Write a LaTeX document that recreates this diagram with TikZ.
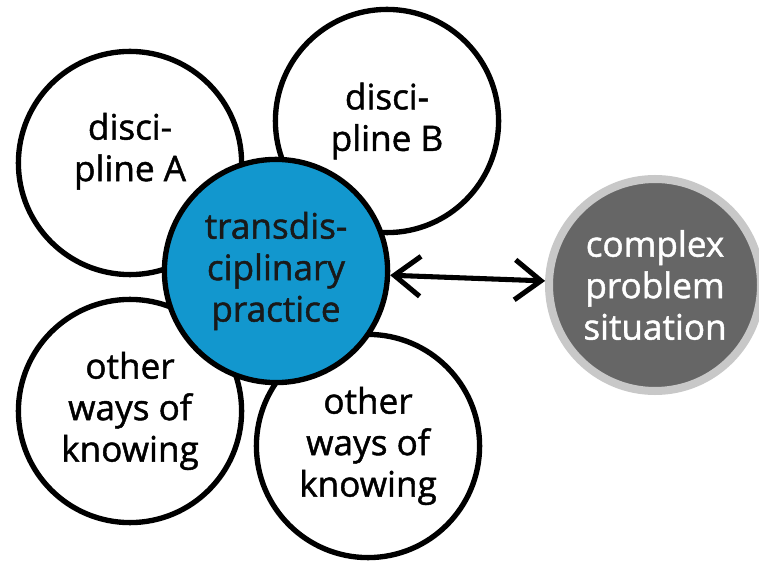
\documentclass[tikz,border=0pt]{standalone}
\usepackage{fontspec}
\setmainfont{Open Sans}[FakeBold=1.3]
\usepackage{tikz}
\usetikzlibrary{shapes}
\usetikzlibrary{positioning}
\usetikzlibrary{arrows.meta}
\definecolor{tdblue}{HTML}{1297CE}
\definecolor{cpgray}{HTML}{666666}
\definecolor{cpring}{HTML}{C8C8C8}
\tikzset{
    mynode/.style = {circle, line width=3.8pt, draw=black, align=center, fill=white, minimum size=5.58cm, inner sep=0pt, font=\fontsize{25}{29.5}\selectfont},
    mynodeb/.style = {mynode, fill=tdblue, text=black!90},
    mynodeg/.style = {circle, line width=5.7pt, draw=cpring, align=center, fill=cpgray, text=white, minimum size=5.3cm, inner sep=0pt, font=\fontsize{25}{29.5}\selectfont},
    edgen/.style = {{Straight Barb[length=0.65cm,width=1.0cm]}-{Straight Barb[length=0.65cm,width=1.0cm]}, line width=3.6pt}
}
\begin{document}
\begin{tikzpicture}[scale=1.00,transform shape]
\useasboundingbox (0,0) rectangle (18.975,14);
%
\node[mynode, text depth=0.8cm] at (3.25, 9.925) (da) {disci-\\pline A};
\node[mynode] at (9.675, 10.975) (db) {disci-\\pline B};
\node[mynode] at (3.25, 3.725) (ol) {other\\ways of\\knowing};
\node[mynode] at (9.2, 2.85) (or) {other\\ways of\\knowing};
\node[mynodeb] at (6.9, 7.225) (tp) {transdis-\\ciplinary\\practice};
\node[mynodeg] at (16.375, 6.875) (cp) {complex\\problem\\situation};
%
\draw[edgen] (tp) -- (cp);

\end{tikzpicture}
\end{document}
